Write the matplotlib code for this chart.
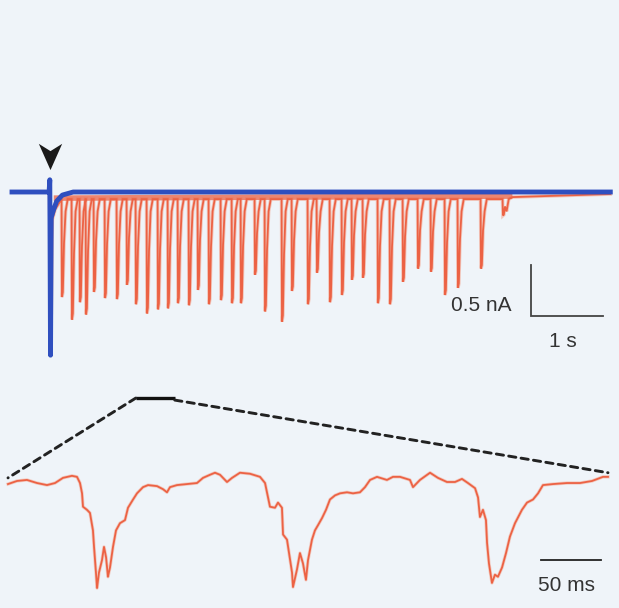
import numpy as np
import matplotlib
matplotlib.use("Agg")
import matplotlib.pyplot as plt
from matplotlib.patches import ConnectionPatch
from matplotlib.path import Path

# ---------------- data ----------------
# Top panel: long recording (time in s, current in nA)
stim_time = 0.53                       # arrowhead / stimulus
blue_t = [0.0, 0.515, 0.525, 0.535, 0.545, 0.575, 0.62, 0.70, 0.85, 8.31]
blue_I = [0.0, 0.0, 0.12, -1.60, -0.25, -0.18, -0.09, -0.03, 0.0, 0.0]

event_times = [0.694, 0.833, 0.944, 1.028, 1.139, 1.292, 1.458, 1.597, 1.722, 1.875,
               2.028, 2.167, 2.306, 2.458, 2.583, 2.736, 2.903, 3.056, 3.181, 3.375,
               3.514, 3.750, 3.889, 4.111, 4.236, 4.417, 4.583, 4.722, 4.875, 5.083,
               5.250, 5.431, 5.639, 5.819, 6.014, 6.194, 6.514, 6.819]
event_amps = [0.96, 1.18, 1.01, 1.13, 0.91, 0.97, 0.98, 0.84, 1.03, 1.12,
              1.08, 1.07, 1.02, 1.04, 0.89, 1.03, 0.99, 1.02, 1.02, 0.74,
              1.10, 1.20, 0.90, 1.03, 0.72, 1.01, 0.94, 0.79, 0.77, 1.02,
              1.03, 0.81, 0.68, 0.71, 0.94, 0.87, 0.68, 0.16]
red_baseline = -0.07
band_end = 6.95                       # end of the noisy red baseline band (s)
trace_end = 8.31

zoom_start, zoom_end = 1.72, 2.26     # bar marking the expanded segment (s)

# Bottom panel: expanded segment (time in ms, current in nA)
zoom_ms = [0.0, 7.5, 15.8, 24.2, 32.5, 39.2, 45.8, 53.3, 57.5, 60.0, 61.7, 62.5, 65.8, 68.3,
           70.8, 71.7, 73.3, 74.2, 75.8, 78.3, 80.0, 81.7, 83.3, 85.0, 87.5, 90.0, 93.3,
           97.5, 100.0, 104.2, 107.5, 112.5, 116.7, 124.2, 129.2, 132.5, 135.0, 140.8,
           149.2, 157.5, 162.5, 168.3, 172.5, 176.7, 182.5, 186.7, 193.3, 201.7, 210.0,
           214.2, 215.8, 218.3, 222.5, 225.0, 228.3, 229.2, 232.5, 234.2, 236.7, 237.5,
           240.8, 243.3, 245.8, 248.3, 250.0, 253.3, 255.8, 258.3, 261.7, 265.0, 268.3,
           272.5, 276.7, 282.5, 287.5, 293.3, 297.5, 301.7, 307.5, 315.8, 320.8, 326.7,
           335.0, 337.5, 343.3, 351.7, 358.3, 365.8, 372.5, 378.3, 383.3, 389.2, 391.7,
           393.3, 395.8, 398.3, 399.2, 400.8, 403.3, 405.8, 408.3, 411.7, 415.0, 418.3,
           422.5, 428.3, 432.5, 437.5, 441.7, 445.8, 454.2, 465.8, 476.7, 486.7, 495.8, 500.0]
zoom_I = [-0.02, 0.01, 0.02, -0.01, -0.03, -0.01, 0.04, 0.06, 0.05, -0.01, -0.11, -0.24, -0.27, -0.30,
          -0.47, -0.63, -0.88, -1.03, -0.88, -0.76, -0.63, -0.73, -0.92, -0.83, -0.63, -0.47, -0.40,
          -0.37, -0.25, -0.17, -0.11, -0.05, -0.03, -0.04, -0.07, -0.10, -0.05, -0.03,
          -0.02, -0.01, 0.04, 0.07, 0.09, 0.07, 0.00, 0.04, 0.09, 0.08, 0.05,
          -0.01, -0.10, -0.24, -0.25, -0.20, -0.25, -0.51, -0.56, -0.69, -0.88, -1.02,
          -0.85, -0.69, -0.79, -0.95, -0.76, -0.56, -0.47, -0.42, -0.35, -0.27, -0.17,
          -0.13, -0.11, -0.10, -0.11, -0.10, -0.05, 0.02, 0.05, 0.02, 0.05, 0.05,
          0.02, -0.05, 0.02, 0.09, 0.04, 0.00, 0.00, 0.03, -0.01, -0.06, -0.15,
          -0.34, -0.27, -0.37, -0.59, -0.79, -0.98, -0.90, -0.92, -0.83, -0.69, -0.53,
          -0.40, -0.27, -0.20, -0.17, -0.11, -0.03, -0.02, -0.01, -0.01, 0.01, 0.05, 0.05]

# scale bars
sb_nA = 0.5
sb_s = 1.0
sb_ms = 50.0

# ---------------- style ----------------
BG = "#eff4f9"
RED = "#ec6244"
RED_LIGHT = "#f49a80"
BLUE = "#2f4fbf"
DARK = "#333333"
plt.rcParams['font.family'] = ['Liberation Sans', 'DejaVu Sans']

fig = plt.figure(figsize=(6.19, 6.08), dpi=100, facecolor=BG)

# top axes: pixel rows 120..420
ax1 = fig.add_axes([0, 188 / 608, 1, 300 / 608])
ax1.set_xlim(-12 / 72, 607 / 72)
ax1.set_ylim((192 - 420) / 102, (192 - 120) / 102)
ax1.axis("off")

# bottom axes: pixel rows 420..608
ax2 = fig.add_axes([0, 0, 1, 188 / 608])
ax2.set_xlim(-8 / 1.2, 611 / 1.2)
ax2.set_ylim((482 - 608) / 103, (482 - 420) / 103)
ax2.axis("off")

# build red trace from events
rt = [0.0, 0.52, 0.545, 0.56, 0.60]
ri = [0.0, 0.0, -1.2, red_baseline - 0.2, red_baseline - 0.1]
for t, a in zip(event_times, event_amps):
    rt += [t - 0.006, t, t + 0.012, t + 0.028, t + 0.05, t + 0.08]
    ri += [red_baseline, red_baseline - a, red_baseline - a * 0.95,
           red_baseline - a * 0.45, red_baseline - 0.12, red_baseline]
rt += [band_end, trace_end]
ri += [red_baseline + 0.02, red_baseline + 0.05]

# light halo to mimic the blurred, filled look of the events
ax1.plot(rt, ri, color=RED_LIGHT, lw=2.6, alpha=0.5, solid_joinstyle="miter", zorder=1)
ax1.plot(rt, ri, color=RED, lw=1.3, solid_joinstyle="miter", zorder=2)
# noisy red baseline band just under the blue trace
ax1.plot([0.58, band_end], [red_baseline + 0.01, red_baseline + 0.03], color=RED,
         lw=4.0, alpha=0.75, solid_capstyle="butt", zorder=2)
ax1.plot(blue_t, blue_I, color=BLUE, lw=3.5, zorder=3)

# arrowhead marker
arrow = Path([(0, -1.0), (-0.8, 0.8), (0, 0.3), (0.8, 0.8), (0, -1.0)],
             [Path.MOVETO, Path.LINETO, Path.LINETO, Path.LINETO, Path.CLOSEPOLY])
ax1.plot([stim_time], [0.36], marker=arrow, markersize=21, color="#1a1a1a",
         markeredgewidth=0, linestyle="none", zorder=4)

# top scale bars
sx0 = 7.208
sy0 = -1.216
ax1.plot([sx0, sx0, sx0 + sb_s], [sy0 + sb_nA, sy0, sy0], color="#444444",
         lw=1.3, solid_joinstyle="miter", zorder=3)
ax1.text(sx0 - 0.27, sy0 + 0.108, f"{sb_nA} nA", ha="right", va="center",
         fontsize=15, color=DARK)
ax1.text(sx0 + sb_s / 2 - 0.06, sy0 - 0.245, f"{sb_s:.0f} s", ha="center", va="center",
         fontsize=15, color=DARK)

# black bar marking expanded segment
bar_y = -2.02
ax1.plot([zoom_start, zoom_end], [bar_y, bar_y], color="#111111", lw=2.4,
         solid_capstyle="butt", zorder=3)

# bottom trace
ax2.plot(zoom_ms, zoom_I, color=RED_LIGHT, lw=2.4, alpha=0.45, zorder=1)
ax2.plot(zoom_ms, zoom_I, color=RED, lw=1.3, zorder=2)

# 50 ms scale bar
bx0 = 444.0
by0 = -0.757
ax2.plot([bx0, bx0 + sb_ms], [by0, by0], color="#222222", lw=1.3, zorder=3)
ax2.text(bx0 + sb_ms / 2 - 4, by0 - 0.245, f"{sb_ms:.0f} ms", ha="center", va="center",
         fontsize=15, color=DARK)

# dashed connectors
for xa, ya, xb, yb in [(zoom_start, bar_y, zoom_ms[0], 0.04),
                       (zoom_end, bar_y - 0.02, zoom_ms[-1], 0.09)]:
    con = ConnectionPatch(xyA=(xa, ya), coordsA=ax1.transData,
                          xyB=(xb, yb), coordsB=ax2.transData,
                          color="#222222", lw=2.1, linestyle=(0, (2.5, 1.8)),
                          zorder=5)
    fig.add_artist(con)

fig.savefig("out.png", dpi=100, facecolor=BG)
